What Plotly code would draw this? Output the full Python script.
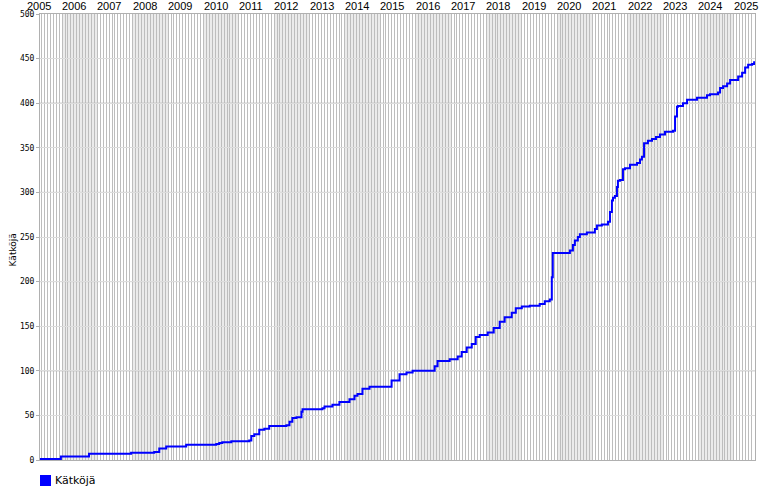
import pandas as pd
import plotly.graph_objects as go

# cumulative count of found caches
dates = [
    "2005-05-18", "2005-12-01", "2005-12-20", "2006-09-05", "2006-10-06", "2007-11-24",
    "2007-12-15", "2008-08-10", "2008-10-01", "2008-12-12", "2009-05-27", "2009-07-06",
    "2010-05-13", "2010-06-13", "2010-07-14", "2010-10-15", "2011-04-18", "2011-05-10",
    "2011-06-10", "2011-07-31", "2011-09-21", "2011-11-11", "2012-05-06", "2012-06-07",
    "2012-07-07", "2012-08-18", "2012-10-09", "2012-10-20", "2013-05-14", "2013-06-04",
    "2013-08-25", "2013-11-05", "2014-02-17", "2014-04-10", "2014-05-11", "2014-07-01",
    "2014-09-12", "2015-04-28", "2015-07-19", "2015-09-29", "2015-12-01", "2016-07-16",
    "2016-08-15", "2016-12-18", "2017-03-11", "2017-04-21", "2017-06-12", "2017-08-03",
    "2017-09-13", "2017-10-24", "2018-01-15", "2018-03-18", "2018-05-19", "2018-07-09",
    "2018-09-20", "2018-11-01", "2019-01-02", "2019-03-25", "2019-07-06", "2019-08-27",
    "2019-10-18", "2019-11-08", "2019-11-18", "2020-05-13", "2020-06-13", "2020-07-03",
    "2020-08-03", "2020-08-24", "2020-11-04", "2021-01-26", "2021-02-16", "2021-04-08",
    "2021-06-10", "2021-07-01", "2021-07-21", "2021-08-01", "2021-08-21", "2021-09-11",
    "2021-09-21", "2021-10-12", "2021-11-12", "2021-12-03", "2022-01-24", "2022-04-06",
    "2022-05-07", "2022-05-27", "2022-06-18", "2022-07-28", "2022-09-08", "2022-10-19",
    "2022-11-29", "2023-01-20", "2023-04-13", "2023-05-04", "2023-05-24", "2023-06-04",
    "2023-07-25", "2023-09-05", "2023-12-17", "2024-03-29", "2024-04-29", "2024-07-21",
    "2024-08-11", "2024-09-11", "2024-10-23", "2024-11-23", "2025-02-14", "2025-03-27",
    "2025-04-27", "2025-05-28", "2025-07-08", "2025-07-29", "2025-08-07",
]
counts = [
    1, 1, 4, 4, 7, 7,
    8, 9, 13, 15, 15, 17,
    18, 19, 20, 21, 22, 27,
    29, 34, 35, 38, 39, 43,
    47, 48, 54, 57, 58, 60,
    62, 65, 68, 72, 74, 80,
    82, 89, 96, 98, 100, 105,
    111, 113, 116, 121, 126, 130,
    138, 140, 143, 148, 155, 160,
    165, 170, 172, 173, 175, 178,
    180, 205, 232, 235, 241, 246,
    250, 253, 255, 259, 263, 264,
    267, 278, 291, 294, 296, 306,
    313, 314, 326, 327, 331, 333,
    337, 340, 355, 358, 360, 362,
    365, 368, 369, 385, 396, 397,
    400, 404, 406, 409, 410, 412,
    417, 419, 422, 426, 430, 434,
    440, 443, 444, 446, 447,
]

series_name = "Kätköjä"
year_labels = [str(y) for y in range(2005, 2026)]
shaded_years = list(range(2006, 2025, 2))
x_start, x_end = "2005-05-18", "2025-08-07"
y_ticks = list(range(0, 501, 50))

fig = go.Figure()
fig.add_trace(go.Scatter(
    x=dates, y=counts, mode="lines", name=series_name, showlegend=False,
    line=dict(color="#0000ff", width=2, shape="hv"),
))

shapes = []
for yr in shaded_years:
    shapes.append(dict(type="rect", xref="x", yref="paper",
                       x0=f"{yr}-01-01", x1=f"{yr + 1}-01-01", y0=0, y1=1,
                       fillcolor="#ebebeb", line=dict(width=0), layer="below"))
for v in y_ticks:
    if v % 100 == 0 and 0 < v < 500:
        shapes.append(dict(type="line", xref="paper", yref="y", x0=0, x1=1,
                           y0=v, y1=v, line=dict(color="#b4b4b4", width=1),
                           layer="between"))
# legend swatch
shapes.append(dict(type="rect", xref="paper", yref="paper",
                   xsizemode="pixel", ysizemode="pixel", xanchor=0, yanchor=0,
                   x0=0, x1=11, y0=-15, y1=-26,
                   fillcolor="#0000ff", line=dict(width=0)))

t0 = pd.Timestamp(x_start)
t1 = pd.Timestamp(x_end)
annotations = []
for lab in year_labels:
    frac = (pd.Timestamp(f"{lab}-01-01") - t0) / (t1 - t0)
    annotations.append(dict(text=lab, xref="paper", yref="paper", x=frac, y=1,
                            xanchor="left", yanchor="bottom", showarrow=False,
                            xshift=-2, yshift=0,
                            font=dict(family="Liberation Sans", size=11, color="#000")))
annotations.append(dict(text=series_name, xref="paper", yref="paper", x=0, y=0,
                        xanchor="left", yanchor="middle", showarrow=False,
                        xshift=13, yshift=-20,
                        font=dict(family="DejaVu Sans", size=11, color="#000")))
annotations.append(dict(text=series_name, xref="paper", yref="paper", x=0, y=0.47,
                        xanchor="center", yanchor="middle", showarrow=False,
                        textangle=-90, xshift=-27,
                        font=dict(family="DejaVu Sans", size=9, color="#000")))

fig.update_layout(
    width=770, height=500,
    margin=dict(l=40, r=15, t=10, b=40),
    paper_bgcolor="white", plot_bgcolor="white",
    shapes=shapes, annotations=annotations,
    showlegend=False,
    xaxis=dict(type="date", range=[x_start, x_end], showticklabels=False,
               dtick="M1", tick0="2005-01-01", showgrid=True, gridcolor="#bdbdbd",
               gridwidth=1, showline=True, linecolor="#b0b0b0", mirror=True,
               ticks="", zeroline=False),
    yaxis=dict(range=[0, 500], tickvals=y_ticks, showgrid=True, gridcolor="#dcdcdc",
               gridwidth=1, showline=True, linecolor="#b0b0b0", mirror=True,
               ticks="outside", ticklen=3, tickcolor="#b0b0b0", zeroline=False,
               tickfont=dict(family="DejaVu Sans Mono", size=8, color="#000")),
)

fig.write_html("out.html", config={"displayModeBar": False},
               post_script="document.body.style.margin='0';")
